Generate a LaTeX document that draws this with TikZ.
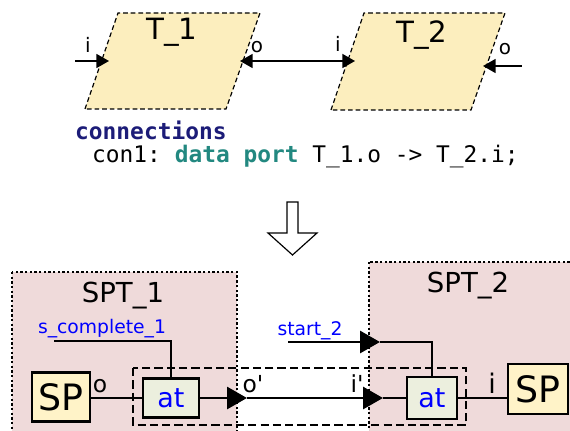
\documentclass[tikz,border=0pt]{standalone}
\usepackage{fontspec}
\setmainfont{DejaVu Sans}
\setmonofont{DejaVu Sans Mono}
\usepackage{xcolor}
\usetikzlibrary{arrows.meta,positioning,calc}
\definecolor{taskfill}{RGB}{252,238,190}
\definecolor{sptfill}{RGB}{239,218,218}
\definecolor{spfill}{RGB}{255,243,200}
\definecolor{atfill}{RGB}{236,239,222}
\definecolor{kwnavy}{RGB}{28,28,120}
\definecolor{kwteal}{RGB}{34,136,128}
\tikzset{
  task/.style ={draw,dash pattern=on 4pt off 2.5pt,line width=1pt,fill=taskfill},
  tname/.style={font=\fontsize{25}{28}\selectfont},
  pname/.style={font=\fontsize{17}{20}\selectfont},
  port/.style ={line width=1.5pt},
  ptip/.tip   ={Triangle[length=0.38cm,width=0.42cm]},
  code/.style ={inner sep=0pt,font=\ttfamily\fontsize{19.5}{22}\selectfont},
  sptbox/.style={draw,fill=sptfill,line width=2.2pt,dash pattern=on 2pt off 2pt},
  grp/.style  ={draw,line width=2.3pt,dash pattern=on 7pt off 3.5pt},
  spblk/.style={draw,line width=2.3pt,fill=spfill,inner sep=0pt,font=\fontsize{31}{33}\selectfont},
  atblk/.style={draw,line width=2.3pt,fill=atfill,inner sep=0pt,text=blue,font=\fontsize{23}{26}\selectfont},
  sname/.style={font=\fontsize{23.5}{26}\selectfont},
  sig/.style  ={text=blue,font=\fontsize{16}{18}\selectfont},
  lbl/.style  ={font=\fontsize{20}{22}\selectfont},
  wire/.style ={line width=2.5pt},
  ar/.style   ={wire,-{Triangle[length=0.6cm,width=0.66cm]}},
}
\begin{document}
\begin{tikzpicture}[x=0.03cm,y=-0.03cm]
  \useasboundingbox (0,0) rectangle (570,431);
  \clip (0,0) rectangle (570,431);
  % source model: two threads
  \draw[task] (85,109) -- (118,13) -- (260,13) -- (226,109) -- cycle;
  \draw[task] (331,110) -- (364,13) -- (505,13) -- (471,110) -- cycle;
  \node[tname,anchor=base] (t1name) at (172,40){T\_1};
  \node[tname,anchor=base] (t2name) at (422,43){T\_2};
  \coordinate (t1iin) at (75,61);  \coordinate (t1i) at (109,61);
  \coordinate (t1o) at (240,61);   \coordinate (t2i) at (355,61);
  \coordinate (t2o) at (483,66);   \coordinate (t2oout) at (522,66);
  \draw[port,-{ptip}] (t1iin) -- (t1i);
  \draw[port,{ptip}-{ptip}] (t1o) -- (t2i);
  \draw[port,{ptip}-] (t2o) -- (t2oout);
  \node[pname,anchor=base] (t1ilbl) at (88,53){i};
  \node[pname,anchor=base] (t1olbl) at (257,53){o};
  \node[pname,anchor=base] (t2ilbl) at (338,52){i};
  \node[pname,anchor=base] (t2olbl) at (505,55){o};
  \node[code,anchor=base west] (conn) at (75,140){\textcolor{kwnavy}{\bfseries connections}};
  \node[code,anchor=base west] (con1) at (92,163){con1: \textcolor{kwteal}{\bfseries data port} T\_1.o -> T\_2.i;};
  % transformation arrow
  \draw[line width=1pt,fill=white] (287,202) -- (298,202) -- (298,233) -- (317,233)
    -- (292.5,255) -- (268,233) -- (287,233) -- cycle;
  % generated model
  \draw[sptbox] (12,272) rectangle (237,460);
  \draw[sptbox] (369,262) rectangle (590,460);
  \node[sname,anchor=base] (spt1) at (123,302){SPT\_1};
  \node[sname,anchor=base] (spt2) at (468,292){SPT\_2};
  \draw[grp] (133,368) rectangle (466,425);
  \node[spblk,minimum width=1.74cm,minimum height=1.47cm] (sp1) at (61,397){SP};
  \node[spblk,minimum width=1.8cm,minimum height=1.5cm] (sp2) at (538,389){SP};
  \node[atblk,minimum width=1.68cm,minimum height=1.17cm] (at1) at (171,398){at};
  \node[atblk,minimum width=1.5cm,minimum height=1.26cm] (at2) at (432,398){at};
  \coordinate (op) at (247,398);
  \coordinate (ip) at (383,398);
  \coordinate (sc1) at (54,341);
  \coordinate (st2) at (288,342);
  \coordinate (st2tip) at (380,342);
  \draw[wire] (sp1.east |- at1.west) -- (at1.west);
  \draw[ar] (at1.east) -- (op);
  \draw[ar] (op) -- (ip);
  \draw[wire] (ip) -- (at2.west);
  \draw[wire] (at2.east) -- (at2.east -| sp2.west);
  \draw[wire] (sc1) -| (at1.north);
  \draw[ar] (st2) -- (st2tip);
  \draw[wire] (st2tip) -| (at2.north);
  \node[sig,anchor=base] (sc1lbl) at (102,333){s\_complete\_1};
  \node[sig,anchor=base] (st2lbl) at (310,335){start\_2};
  \node[lbl,anchor=base] (olbl) at (100,392){o};
  \node[lbl,anchor=base] (oplbl) at (253,392){o\textquotesingle};
  \node[lbl,anchor=base] (iplbl) at (357,392){i\textquotesingle};
  \node[lbl,anchor=base,font=\fontsize{23}{25}\selectfont] (ilbl) at (492,393){i};
\end{tikzpicture}
\end{document}
